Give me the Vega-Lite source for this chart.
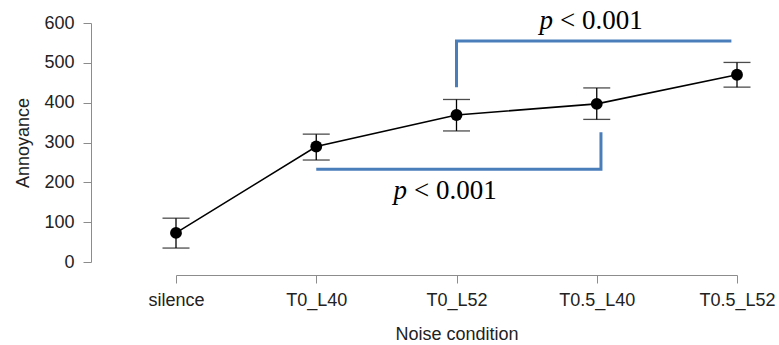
{
  "$schema": "https://vega.github.io/schema/vega-lite/v6.json",
  "width": 561,
  "height": 239,
  "autosize": {"type": "none"},
  "padding": {"left": 176, "top": 23, "right": 42, "bottom": 83},
  "background": "white",
  "config": {
    "view": {"stroke": null},
    "axis": {
      "grid": false,
      "domainColor": "#8c8c8c",
      "tickColor": "#8c8c8c",
      "domainWidth": 1,
      "tickWidth": 1,
      "tickSize": 8,
      "labelFont": "Liberation Sans",
      "labelFontSize": 18,
      "labelColor": "#222222",
      "labelOverlap": false,
      "labelFlush": false,
      "titleFont": "Liberation Sans",
      "titleFontSize": 18,
      "titleFontWeight": "normal",
      "titleColor": "#222222"
    }
  },
  "datasets": {
    "means": [
      {"x": 1, "cond": "silence", "mean": 73, "lo": 35, "hi": 110},
      {"x": 2, "cond": "T0_L40", "mean": 290, "lo": 256, "hi": 321},
      {"x": 3, "cond": "T0_L52", "mean": 369, "lo": 329, "hi": 408},
      {"x": 4, "cond": "T0.5_L40", "mean": 397, "lo": 358, "hi": 437},
      {"x": 5, "cond": "T0.5_L52", "mean": 470, "lo": 439, "hi": 501}
    ],
    "brackets": [
      {"b": "upper", "o": 1, "x": 3, "y": 439},
      {"b": "upper", "o": 2, "x": 3, "y": 555},
      {"b": "upper", "o": 3, "x": 4.96, "y": 555},
      {"b": "lower", "o": 1, "x": 2, "y": 233},
      {"b": "lower", "o": 2, "x": 4.03, "y": 233},
      {"b": "lower", "o": 3, "x": 4.03, "y": 326}
    ],
    "labels": [
      {"x": 3.709, "y": 585},
      {"x": 2.668, "y": 158}
    ]
  },
  "layer": [
    {
      "data": {"name": "means"},
      "mark": {"type": "rule", "color": "black", "strokeWidth": 1.3},
      "encoding": {
        "x": {
          "field": "x", "type": "quantitative",
          "scale": {"domain": [1, 5], "nice": false, "zero": false},
          "axis": {
            "values": [1, 2, 3, 4, 5],
            "offset": 13,
            "labelPadding": 8,
            "titlePadding": 16,
            "title": "Noise condition",
            "labelExpr": "datum.value == 1 ? 'silence' : datum.value == 2 ? 'T0_L40' : datum.value == 3 ? 'T0_L52' : datum.value == 4 ? 'T0.5_L40' : 'T0.5_L52'"
          }
        },
        "y": {
          "field": "lo", "type": "quantitative",
          "scale": {"domain": [0, 600], "nice": false, "zero": false},
          "axis": {
            "values": [0, 100, 200, 300, 400, 500, 600],
            "tickCount": 7,
            "offset": 85,
            "labelPadding": 9,
            "titlePadding": 11,
            "title": "Annoyance"
          }
        },
        "y2": {"field": "hi"}
      }
    },
    {
      "data": {"name": "means"},
      "mark": {"type": "tick", "orient": "horizontal", "color": "black", "size": 27, "thickness": 1.3},
      "encoding": {
        "x": {"field": "x", "type": "quantitative", "axis": {"values": [1, 2, 3, 4, 5], "offset": 13, "labelPadding": 8, "titlePadding": 16, "title": "Noise condition", "labelExpr": "datum.value == 1 ? 'silence' : datum.value == 2 ? 'T0_L40' : datum.value == 3 ? 'T0_L52' : datum.value == 4 ? 'T0.5_L40' : 'T0.5_L52'"}},
        "y": {"field": "lo", "type": "quantitative", "axis": {"values": [0, 100, 200, 300, 400, 500, 600], "tickCount": 7, "offset": 85, "labelPadding": 9, "titlePadding": 11, "title": "Annoyance"}}
      }
    },
    {
      "data": {"name": "means"},
      "mark": {"type": "tick", "orient": "horizontal", "color": "black", "size": 27, "thickness": 1.3},
      "encoding": {
        "x": {"field": "x", "type": "quantitative", "axis": {"values": [1, 2, 3, 4, 5], "offset": 13, "labelPadding": 8, "titlePadding": 16, "title": "Noise condition", "labelExpr": "datum.value == 1 ? 'silence' : datum.value == 2 ? 'T0_L40' : datum.value == 3 ? 'T0_L52' : datum.value == 4 ? 'T0.5_L40' : 'T0.5_L52'"}},
        "y": {"field": "hi", "type": "quantitative", "axis": {"values": [0, 100, 200, 300, 400, 500, 600], "tickCount": 7, "offset": 85, "labelPadding": 9, "titlePadding": 11, "title": "Annoyance"}}
      }
    },
    {
      "data": {"name": "means"},
      "mark": {"type": "line", "color": "black", "strokeWidth": 1.6},
      "encoding": {
        "x": {"field": "x", "type": "quantitative", "axis": {"values": [1, 2, 3, 4, 5], "offset": 13, "labelPadding": 8, "titlePadding": 16, "title": "Noise condition", "labelExpr": "datum.value == 1 ? 'silence' : datum.value == 2 ? 'T0_L40' : datum.value == 3 ? 'T0_L52' : datum.value == 4 ? 'T0.5_L40' : 'T0.5_L52'"}},
        "y": {"field": "mean", "type": "quantitative", "axis": {"values": [0, 100, 200, 300, 400, 500, 600], "tickCount": 7, "offset": 85, "labelPadding": 9, "titlePadding": 11, "title": "Annoyance"}}
      }
    },
    {
      "data": {"name": "means"},
      "mark": {"type": "point", "shape": "circle", "filled": true, "color": "black", "opacity": 1, "size": 140},
      "encoding": {
        "x": {"field": "x", "type": "quantitative", "axis": {"values": [1, 2, 3, 4, 5], "offset": 13, "labelPadding": 8, "titlePadding": 16, "title": "Noise condition", "labelExpr": "datum.value == 1 ? 'silence' : datum.value == 2 ? 'T0_L40' : datum.value == 3 ? 'T0_L52' : datum.value == 4 ? 'T0.5_L40' : 'T0.5_L52'"}},
        "y": {"field": "mean", "type": "quantitative", "axis": {"values": [0, 100, 200, 300, 400, 500, 600], "tickCount": 7, "offset": 85, "labelPadding": 9, "titlePadding": 11, "title": "Annoyance"}}
      }
    },
    {
      "data": {"name": "brackets"},
      "mark": {"type": "line", "color": "#4a7ebb", "strokeWidth": 3, "strokeJoin": "miter", "strokeCap": "butt"},
      "encoding": {
        "x": {"field": "x", "type": "quantitative", "axis": {"values": [1, 2, 3, 4, 5], "offset": 13, "labelPadding": 8, "titlePadding": 16, "title": "Noise condition", "labelExpr": "datum.value == 1 ? 'silence' : datum.value == 2 ? 'T0_L40' : datum.value == 3 ? 'T0_L52' : datum.value == 4 ? 'T0.5_L40' : 'T0.5_L52'"}},
        "y": {"field": "y", "type": "quantitative", "axis": {"values": [0, 100, 200, 300, 400, 500, 600], "tickCount": 7, "offset": 85, "labelPadding": 9, "titlePadding": 11, "title": "Annoyance"}},
        "detail": {"field": "b"},
        "order": {"field": "o"}
      }
    },
    {
      "data": {"name": "labels"},
      "mark": {"type": "text", "text": "p", "font": "Liberation Serif", "fontStyle": "italic", "fontSize": 27, "align": "right", "baseline": "alphabetic", "dx": -3, "color": "black"},
      "encoding": {
        "x": {"field": "x", "type": "quantitative", "axis": {"values": [1, 2, 3, 4, 5], "offset": 13, "labelPadding": 8, "titlePadding": 16, "title": "Noise condition", "labelExpr": "datum.value == 1 ? 'silence' : datum.value == 2 ? 'T0_L40' : datum.value == 3 ? 'T0_L52' : datum.value == 4 ? 'T0.5_L40' : 'T0.5_L52'"}},
        "y": {"field": "y", "type": "quantitative", "axis": {"values": [0, 100, 200, 300, 400, 500, 600], "tickCount": 7, "offset": 85, "labelPadding": 9, "titlePadding": 11, "title": "Annoyance"}}
      }
    },
    {
      "data": {"name": "labels"},
      "mark": {"type": "text", "text": "< 0.001", "font": "Liberation Serif", "fontSize": 27, "align": "left", "baseline": "alphabetic", "dx": 4, "color": "black"},
      "encoding": {
        "x": {"field": "x", "type": "quantitative", "axis": {"values": [1, 2, 3, 4, 5], "offset": 13, "labelPadding": 8, "titlePadding": 16, "title": "Noise condition", "labelExpr": "datum.value == 1 ? 'silence' : datum.value == 2 ? 'T0_L40' : datum.value == 3 ? 'T0_L52' : datum.value == 4 ? 'T0.5_L40' : 'T0.5_L52'"}},
        "y": {"field": "y", "type": "quantitative", "axis": {"values": [0, 100, 200, 300, 400, 500, 600], "tickCount": 7, "offset": 85, "labelPadding": 9, "titlePadding": 11, "title": "Annoyance"}}
      }
    }
  ]
}
